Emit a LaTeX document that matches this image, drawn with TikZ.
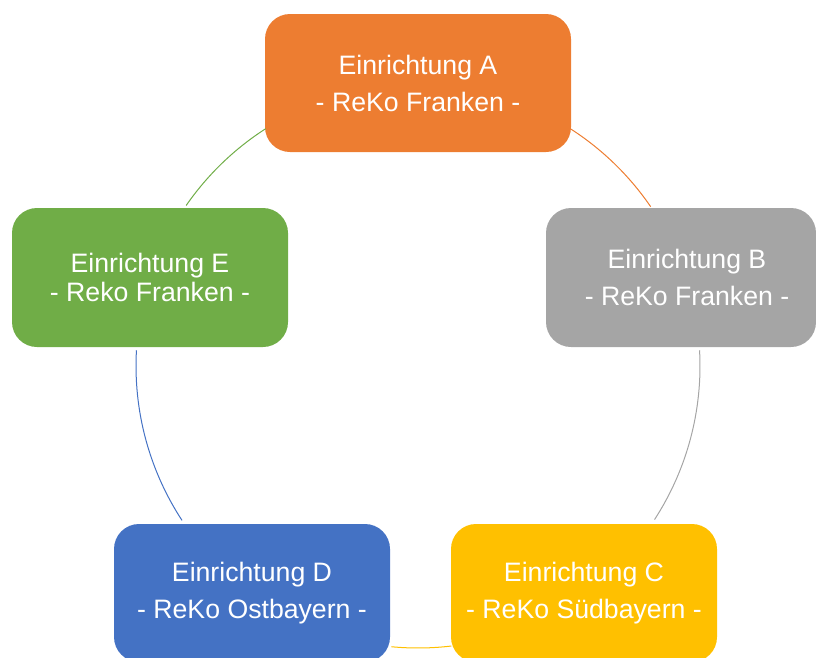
\documentclass[tikz,border=0pt]{standalone}
\usepackage{fontspec}
\setmainfont{Liberation Sans}
\usetikzlibrary{calc}
\definecolor{cA}{HTML}{ED7D31}
\definecolor{cB}{HTML}{A5A5A5}
\definecolor{cC}{HTML}{FFC000}
\definecolor{cD}{HTML}{4472C4}
\definecolor{cE}{HTML}{70AD47}
\begin{document}
\begin{tikzpicture}[x=0.75pt,y=-0.75pt,
  box/.style={rectangle, rounded corners=18.75pt, inner sep=0pt, text=white,
    align=center, font=\fontsize{20}{27.75}\selectfont},
  link/.style={line width=0.75pt}]
\useasboundingbox (0,0) rectangle (816,657);
\clip (0,0) rectangle (816,657);
\node[box, fill=cA, minimum width=229.5pt, minimum height=103.5pt] (A) at (418,83)
  {Einrichtung A\\- ReKo Franken -};
\node[box, fill=cB, minimum width=202.5pt, minimum height=104.25pt] (B) at (681,277.5)
  {\hspace*{9pt}Einrichtung B\\\hspace*{9pt}- ReKo Franken -};
\node[box, fill=cC, minimum width=199.5pt, minimum height=103.5pt] (C) at (584,593)
  {Einrichtung C\\- ReKo Südbayern -};
\node[box, fill=cD, minimum width=207pt, minimum height=103.5pt] (D) at (252,593)
  {Einrichtung D\\- ReKo Ostbayern -};
\node[box, fill=cE, minimum width=207pt, minimum height=104.25pt,
  font=\fontsize{20}{21.75}\selectfont] (E) at (150,277.5)
  {Einrichtung E\\- Reko Franken -};
% ring centre and arc start points
\coordinate (O) at (418,366);
\coordinate (ab) at ($(O)+(-57.3:282)$);
\coordinate (bc) at ($(O)+(-3.2:282)$);
\coordinate (cd) at ($(O)+(83.2:282)$);
\coordinate (de) at ($(O)+(146.8:282)$);
\coordinate (ea) at ($(O)+(-145.3:282)$);
\draw[link, cA] (ab) arc[start angle=-57.3, end angle=-34.4, radius=282];
\draw[link, cB] (bc) arc[start angle=-3.2, end angle=33.0, radius=282];
\draw[link, cC] (cd) arc[start angle=83.2, end angle=95.4, radius=282];
\draw[link, cD] (de) arc[start angle=146.8, end angle=183.2, radius=282];
\draw[link, cE] (ea) arc[start angle=-145.3, end angle=-122.7, radius=282];
\end{tikzpicture}
\end{document}
